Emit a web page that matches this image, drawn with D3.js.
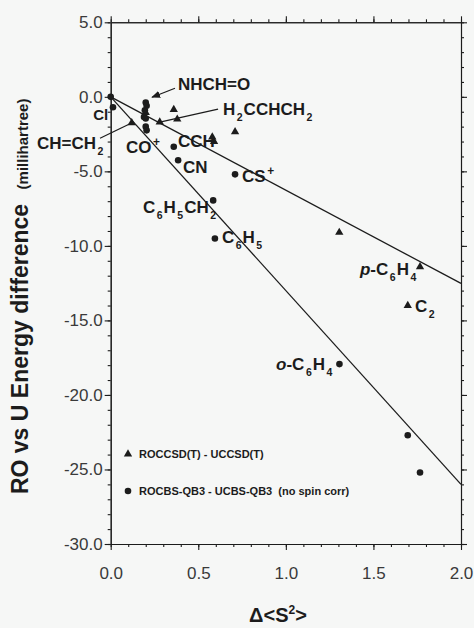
<!DOCTYPE html>
<html><head><meta charset="utf-8">
<script src="https://cdn.jsdelivr.net/npm/d3@7"></script>
<style>
html,body{margin:0;padding:0;background:#f6f7f6;}
svg{display:block;font-family:"Liberation Sans",Arial,Helvetica,sans-serif;}
</style></head>
<body>
<svg id="c" width="474" height="628"></svg>
<script>
// ---- data ----
const xTicks = [0.0, 0.5, 1.0, 1.5, 2.0];
const yTicks = [5, 0, -5, -10, -15, -20, -25, -30];

// ROCCSD(T) - UCCSD(T)  (triangles)
const ccX = [0.12, 0.20, 0.28, 0.36, 0.38, 0.58, 0.59, 0.71, 1.305, 1.766, 1.696];
const ccY = [-1.75, -1.05, -1.70, -0.85, -1.50, -2.70, -3.00, -2.35, -9.10, -11.40, -14.00];

// ROCBS-QB3 - UCBS-QB3 (no spin corr)  (circles)
const cbsX = [0.0, 0.013, 0.20, 0.205, 0.195, 0.19, 0.20, 0.20, 0.205, 0.36, 0.385, 0.71, 0.585, 0.595, 1.306, 1.696, 1.766];
const cbsY = [0.0, -0.70, -0.38, -0.60, -0.90, -1.35, -1.45, -2.00, -2.25, -3.35, -4.25, -5.20, -6.95, -9.50, -17.93, -22.70, -25.20];

// linear fits through origin
const fitCCx = [0, 2.0],  fitCCy = [0, -12.52];
const fitCBSx = [0, 2.0], fitCBSy = [0, -26.0];

// species labels (markup: _x subscript, ^x superscript, *x italic)
const labelText = ["NHCH=O", "H_2CCHCH_2", "CH=CH_2", "Cl", "CO^+", "CCH", "CN", "CS^+", "C_6H_5CH_2", "C_6H_5", "*p-C_6H_4", "C_2", "*o-C_6H_4"];
const labelX    = [0.384, 0.641, -0.421, -0.100, 0.087, 0.384, 0.413, 0.75, 0.184, 0.635, 1.423, 1.737, 0.944];
const labelY    = [0.44, -1.23, -3.51, -1.55, -3.78, -3.38, -5.12, -5.73, -7.80, -9.82, -11.96, -14.44, -18.33];
const labelSize = [17, 17, 17, 15, 17, 17, 17, 17, 17, 17, 17, 17, 17];

// leader lines [x1,y1,x2,y2] in data units
const leaderX1 = [0.367, 0.613, -0.061];
const leaderY1 = [0.58, -0.83, -2.78];
const leaderX2 = [0.236, 0.281, 0.116];
const leaderY2 = [-0.03, -1.70, -1.77];
const leaderArrow = [true, false, false];

const legendText = ["ROCCSD(T) - UCCSD(T)", "ROCBS-QB3 - UCBS-QB3  (no spin corr)"];

// ---- layout ----
const svg = d3.select("#c");
const L = 110.7, R = 461, T = 22.3, B = 544;
const x = d3.scaleLinear().domain([0, 2]).range([L, R]);
const y = d3.scaleLinear().domain([-30, 5]).range([B, T]);
const ink = "#1c1c1c";

svg.append("defs").append("marker")
  .attr("id","ah").attr("viewBox","0 0 10 10").attr("refX",9).attr("refY",5)
  .attr("markerWidth",9).attr("markerHeight",9).attr("orient","auto").attr("markerUnits","userSpaceOnUse")
  .append("path").attr("d","M0,1 L10,5 L0,9 Z").attr("fill",ink);

const xMinor = d3.range(0, 2.0001, 0.1);
const yMinor = d3.range(-30, 5.0001, 1);
const fmt = d => d.toFixed(1);

function styleAxis(g){
  g.selectAll("path,line").attr("stroke", ink).attr("stroke-width", 1.1);
  g.selectAll("text").attr("fill", "#3a3a3a").attr("font-size", 17).attr("font-family","Liberation Sans, Arial, sans-serif");
}
// minor ticks
[[d3.axisBottom(x),B],[d3.axisTop(x),T]].forEach(([ax,p])=>{
  svg.append("g").attr("transform",`translate(0,${p})`)
    .call(ax.tickValues(xMinor).tickSize(3).tickSizeOuter(0).tickFormat("")).call(styleAxis);
});
[[d3.axisLeft(y),L],[d3.axisRight(y),R]].forEach(([ax,p])=>{
  svg.append("g").attr("transform",`translate(${p},0)`)
    .call(ax.tickValues(yMinor).tickSize(3).tickSizeOuter(0).tickFormat("")).call(styleAxis);
});
// major ticks
svg.append("g").attr("transform",`translate(0,${B})`)
  .call(d3.axisBottom(x).tickValues(xTicks).tickSize(6).tickSizeOuter(0).tickPadding(17).tickFormat(fmt)).call(styleAxis);
svg.append("g").attr("transform",`translate(0,${T})`)
  .call(d3.axisTop(x).tickValues(xTicks).tickSize(6).tickSizeOuter(0).tickFormat("")).call(styleAxis);
svg.append("g").attr("transform",`translate(${L},0)`)
  .call(d3.axisLeft(y).tickValues(yTicks).tickSize(6).tickSizeOuter(0).tickPadding(2).tickFormat(fmt)).call(styleAxis);
svg.append("g").attr("transform",`translate(${R},0)`)
  .call(d3.axisRight(y).tickValues(yTicks).tickSize(6).tickSizeOuter(0).tickFormat("")).call(styleAxis);

// fit lines
const line = d3.line().x(d=>x(d[0])).y(d=>y(d[1]));
[[fitCCx,fitCCy],[fitCBSx,fitCBSy]].forEach(([xs,ys])=>{
  svg.append("path").datum(xs.map((v,i)=>[v,ys[i]])).attr("d",line)
    .attr("fill","none").attr("stroke",ink).attr("stroke-width",1.3);
});

// leader lines
leaderX1.forEach((v,i)=>{
  const l = svg.append("line").attr("x1",x(v)).attr("y1",y(leaderY1[i]))
    .attr("x2",x(leaderX2[i])).attr("y2",y(leaderY2[i]))
    .attr("stroke",ink).attr("stroke-width",1.2);
  if (leaderArrow[i]) l.attr("marker-end","url(#ah)");
});

// points
const tri = d3.symbol().type(d3.symbolTriangle).size(30);
svg.append("g").selectAll("path").data(ccX.map((v,i)=>[v,ccY[i]])).join("path")
  .attr("d",tri).attr("transform",d=>`translate(${x(d[0])},${y(d[1])})`).attr("fill",ink);
svg.append("g").selectAll("circle").data(cbsX.map((v,i)=>[v,cbsY[i]])).join("circle")
  .attr("cx",d=>x(d[0])).attr("cy",d=>y(d[1])).attr("r",3.3).attr("fill",ink);

// species labels
function richText(sel, s, size){
  let shift = 0; let i = 0; let italic = false;
  if (s[0] === "*") { italic = true; s = s.slice(1); }
  let first = true;
  while (i < s.length) {
    let ch = s[i], mode = 0;
    if (ch === "_" || ch === "^") { mode = ch === "_" ? 1 : -1; ch = s[i+1]; i += 2; } else { i += 1; }
    const target = mode === 1 ? 6 : (mode === -1 ? -7 : 0);
    const ts = sel.append("tspan").text(ch).attr("dy", target - shift);
    shift = target;
    if (mode !== 0) ts.attr("font-size", size*(mode===-1?0.7:0.62)).attr("dx", 1.5);
    else if (!first && s[i-2] && (s[i-3] === "_" || s[i-3] === "^")) ts.attr("dx", 1);
    if (italic && first) ts.attr("font-style","italic");
    first = false;
  }
}
labelText.forEach((s,i)=>{
  const t = svg.append("text").attr("x",x(labelX[i])).attr("y",y(labelY[i]))
    .attr("font-size",labelSize[i]).attr("font-weight","bold").attr("fill",ink);
  richText(t, s, labelSize[i]);
});

// legend
svg.append("path").attr("d",tri).attr("transform","translate(128,454)").attr("fill",ink);
svg.append("circle").attr("cx",128).attr("cy",491).attr("r",3.3).attr("fill",ink);
svg.append("text").attr("x",139).attr("y",458).attr("font-size",11).attr("font-weight","bold").attr("fill",ink).text(legendText[0]);
svg.append("text").attr("x",139).attr("y",495).attr("font-size",11).attr("font-weight","bold").attr("fill",ink).attr("xml:space","preserve").style("white-space","pre").text(legendText[1]);

// axis titles
const xt = svg.append("text").attr("x",278).attr("y",622).attr("text-anchor","middle")
  .attr("font-size",20).attr("font-weight","bold").attr("fill",ink);
xt.append("tspan").text("Δ<S");
xt.append("tspan").text("2").attr("font-size",12).attr("dy",-8);
xt.append("tspan").text(">").attr("dy",8);

svg.append("text").attr("transform","translate(28,349) rotate(-90)").attr("text-anchor","middle")
  .attr("font-size",23).attr("font-weight","bold").attr("fill",ink).text("RO vs U Energy difference");
svg.append("text").attr("transform","translate(28,144) rotate(-90)").attr("text-anchor","middle")
  .attr("font-size",15).attr("font-weight","bold").attr("fill",ink).text("(millihartree)");
</script>
</body></html>
